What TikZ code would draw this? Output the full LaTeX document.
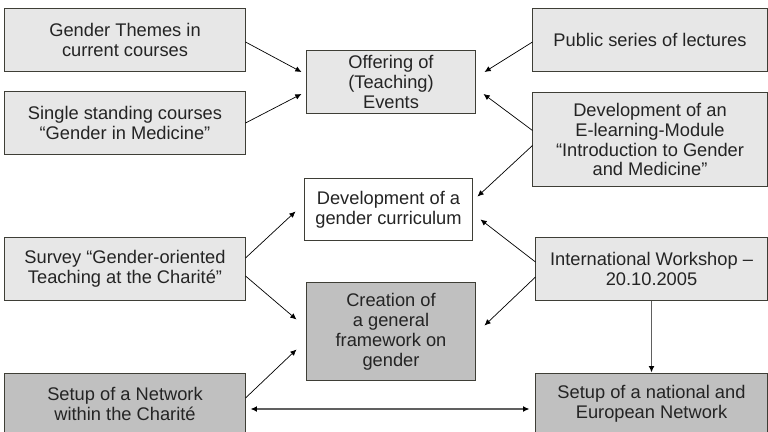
\documentclass[tikz,border=0pt]{standalone}
\usepackage{fontspec}
\setmainfont{Liberation Sans}
\usetikzlibrary{calc,positioning,arrows.meta}
\definecolor{boxline}{RGB}{62,62,54}
\definecolor{lightfill}{RGB}{231,231,231}
\definecolor{darkfill}{RGB}{192,192,192}
\definecolor{txtcol}{RGB}{36,36,36}
\definecolor{linkcol}{RGB}{96,96,96}
\tikzset{
  box/.style={draw=boxline,line width=0.7pt,align=center,text=txtcol,inner sep=2pt,
    font=\fontsize{13}{14.2}\selectfont,minimum height=1.55cm},
  lightbox/.style={box,fill=lightfill},
  darkbox/.style={box,fill=darkfill},
  arr/.style={-{Latex[length=4.4pt,width=4pt]},line width=0.5pt,black},
  link/.style={-{Latex[length=4.6pt,width=4.2pt,color=black]},line width=0.9pt,linkcol}
}
\begin{document}
\begin{tikzpicture}[x=0.025cm,y=-0.025cm]
\useasboundingbox (0,0) rectangle (768,432);
\clip (0,0) rectangle (768,432);
\node[lightbox,minimum width=6cm] (themes) at (125,40) {Gender Themes in\\current courses};
\node[lightbox,minimum width=6cm] (single) at (125,123) {Single standing courses\\``Gender in Medicine''};
\node[lightbox,minimum width=4.2cm] (offer) at (391,82) {Offering of\\(Teaching)\\Events};
\node[lightbox,minimum width=5.85cm] (lect) at (650,40) {Public series of lectures};
\node[lightbox,minimum width=5.85cm,minimum height=2.325cm] (elearn) at (650,139.5)
  {Development of an\\E-learning-Module\\``Introduction to Gender\\and Medicine''};
\node[box,fill=white,minimum width=4.175cm] (curric) at (388.5,209.5) {Development of a\\gender curriculum};
\node[lightbox,minimum width=6cm] (survey) at (125,269) {Survey ``Gender-oriented\\Teaching at the Charit\'e''};
\node[darkbox,minimum width=4.2cm,minimum height=2.425cm] (frame) at (391,331.5)
  {Creation of\\a general\\framework on\\gender};
\node[lightbox,minimum width=5.775cm] (work) at (651.5,269) {International Workshop --\\20.10.2005};
\node[darkbox,minimum width=6cm] (netw) at (125,404) {Setup of a Network\\within the Charit\'e};
\node[darkbox,minimum width=5.775cm] (natnet) at (651.5,404) {Setup of a national and\\European Network};

\path[arr]
  ($(themes.east)+(0,2)$) edge ($(offer.west)+(-5,-10)$)
  (single.east) edge ($(offer.west)+(-5,12)$)
  ($(lect.west)+(0,2)$) edge ($(offer.east)+(9,-10)$)
  ($(elearn.west)+(0,-9)$) edge ($(offer.east)+(8,12)$)
  ($(elearn.west)+(0,6)$) edge ($(curric.east)+(5,-13)$)
  ($(survey.east)+(0,-11)$) edge ($(curric.west)+(-9,2)$)
  ($(survey.east)+(0,7)$) edge ($(frame.west)+(-10,-12)$)
  ($(netw.east)+(0,-6)$) edge ($(frame.west)+(-10,18)$)
  ($(work.west)+(0,-7)$) edge ($(curric.east)+(8,10)$)
  ($(work.west)+(0,8)$) edge ($(frame.east)+(9,-6)$);
\draw[link] (work) -- (natnet);
\draw[link,{Latex[length=4.6pt,width=4.2pt,color=black]}-{Latex[length=4.6pt,width=4.2pt,color=black]}]
  ($(netw.east)+(5,5)$) -- ($(natnet.west)+(-6,5)$);
\end{tikzpicture}
\end{document}
